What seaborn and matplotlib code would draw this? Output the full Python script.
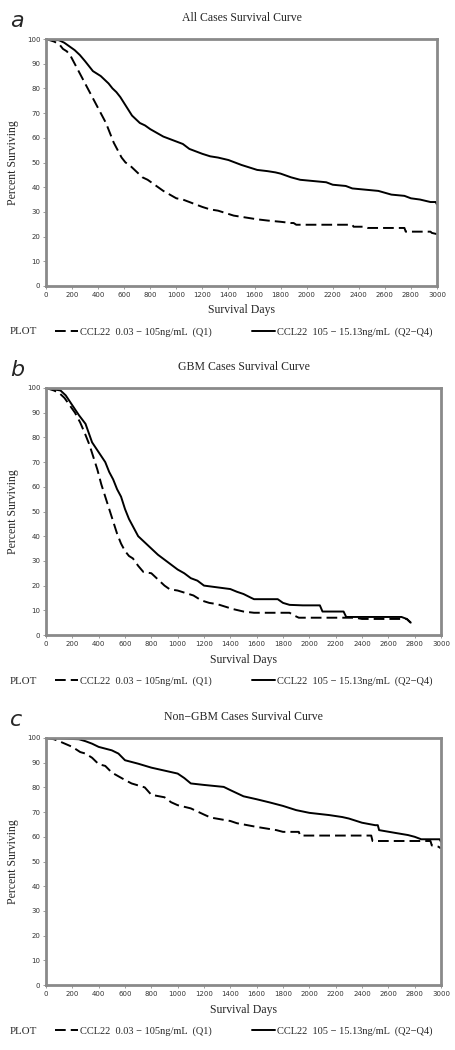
"""CCL22 survival curves (three panels)"""

import matplotlib
matplotlib.use("Agg")
import matplotlib.pyplot as plt
import seaborn as sns
import pandas as pd

# ---- data ----
panel_letters = ["a", "b", "c"]
panel_titles = [
    "All Cases Survival Curve",
    "GBM Cases Survival Curve",
    "Non\u2212GBM Cases Survival Curve",
]
group_labels = [
    "CCL22  0.03 \u2212 105ng/mL  (Q1)",
    "CCL22  105 \u2212 15.13ng/mL  (Q2\u2212Q4)",
]
x_ticks = list(range(0, 3001, 200))
y_ticks = list(range(0, 101, 10))

# panel a
a_q1_days = [0, 60, 100, 130, 160, 190, 220, 250, 280, 310, 340, 370, 400, 430, 460, 490,
             520, 550, 580, 610, 640, 670, 700, 740, 780, 820, 860, 900, 950, 1000, 1050,
             1100, 1150, 1200, 1260, 1320, 1380, 1440, 1500, 1560, 1620, 1700, 1800, 1880,
             1900, 1920, 2350, 2360, 2450, 2470, 2750, 2760, 2950, 2960, 3000]
a_q1_surv = [100, 99, 98, 96, 95, 93, 90, 87, 84, 81, 78, 75, 72, 69, 66, 62,
             58, 55, 52, 50, 49, 47.5, 46, 44, 43, 41.5, 40, 38.5, 37, 35.5, 35,
             34, 33, 32, 31, 30.5, 29.5, 28.5, 28, 27.5, 27, 26.5, 26, 25.5,
             25.5, 24.8, 24.8, 24, 24, 23.5, 23.5, 22, 22, 21.5, 21]
a_q24_days = [0, 100, 140, 180, 220, 260, 300, 330, 360, 390, 420, 450, 480, 510, 540, 570,
              600, 630, 660, 690, 720, 760, 800, 850, 900, 950, 1000, 1050, 1100, 1150, 1200,
              1260, 1320, 1400, 1450, 1500, 1560, 1620, 1700, 1760, 1800, 1880, 1950, 2050,
              2150, 2200, 2300, 2350, 2450, 2550, 2650, 2750, 2800, 2870, 2950, 2990, 3000]
a_q24_surv = [100, 99.5, 98.5, 97, 95.5, 93.5, 91, 89, 87, 86, 85, 83.5, 82, 80, 78.5, 76.5,
              74, 71.5, 69, 67.5, 66, 65, 63.5, 62, 60.5, 59.5, 58.5, 57.5, 55.5, 54.5, 53.5,
              52.5, 52, 51, 50, 49, 48, 47, 46.5, 46, 45.5, 44, 43, 42.5,
              42, 41, 40.5, 39.5, 39, 38.5, 37, 36.5, 35.5, 35, 34, 34, 33]

# panel b
b_q1_days = [0, 60, 100, 140, 180, 220, 260, 300, 330, 360, 390, 420, 450, 480, 510, 540,
             570, 600, 630, 660, 700, 740, 800, 820, 860, 900, 940, 1000, 1060, 1120, 1180,
             1240, 1300, 1360, 1420, 1500, 1580, 1850, 1880, 1920, 2350, 2400, 2740, 2770]
b_q1_surv = [100, 99, 98, 96, 93, 90, 86, 81, 77, 72, 67, 61, 56, 51, 46, 41,
             37, 34, 32, 31, 28, 25.5, 25, 24, 22, 20, 18.5, 18, 17, 16, 14,
             13, 12.5, 11.5, 10.5, 9.5, 9, 9, 8, 7, 7, 6.5, 6.5, 5]
b_q24_days = [0, 110, 150, 200, 250, 300, 350, 400, 450, 480, 510, 540, 570, 600, 630, 660,
              700, 750, 800, 850, 900, 950, 1000, 1050, 1100, 1150, 1200, 1300, 1400, 1450,
              1500, 1560, 1580, 1760, 1800, 1850, 1950, 2080, 2100, 2260, 2280, 2700, 2740,
              2770]
b_q24_surv = [100, 99, 97, 93, 89, 85.5, 78, 74, 70, 66, 63, 59, 56, 51, 47, 44,
              40, 37.5, 35, 32.5, 30.5, 28.5, 26.5, 25, 23, 22, 20, 19.3, 18.6, 17.5,
              16.6, 15, 14.5, 14.5, 13, 12.2, 12, 12, 9.5, 9.5, 7.3, 7.3, 6.5,
              5]

# panel c
c_q1_days = [0, 60, 100, 200, 260, 300, 350, 400, 450, 500, 600, 650, 750, 800, 900, 950,
             1000, 1100, 1200, 1250, 1400, 1450, 1600, 1750, 1800, 1920, 1930, 2470, 2480,
             2920, 2930, 2980, 3000]
c_q1_surv = [100, 99.5, 98.7, 96.4, 94.3, 93.7, 92, 89.4, 88.7, 86, 83, 81.6, 80, 77, 76, 74,
             72.8, 71.5, 69, 67.8, 66.4, 65.5, 64, 62.7, 62, 62, 60.5, 60.5, 58.3,
             58.3, 56.5, 56, 55.3]
c_q24_days = [0, 250, 300, 350, 400, 500, 550, 600, 700, 800, 900, 1000, 1050, 1100, 1200,
              1350, 1400, 1500, 1600, 1700, 1800, 1900, 2000, 2150, 2250, 2300, 2400, 2500,
              2520, 2530, 2650, 2750, 2800, 2850, 2990, 3000]
c_q24_surv = [100, 99.5, 98.7, 97.7, 96.4, 95, 93.7, 91, 89.6, 88, 86.8, 85.6, 83.8, 81.6, 81,
              80.2, 78.9, 76.4, 75.2, 73.9, 72.5, 70.8, 69.7, 68.8, 68, 67.4, 65.7, 64.7,
              64.7, 62.7, 61.6, 60.7, 60, 59, 59, 58]

curves = [
    (a_q1_days, a_q1_surv, a_q24_days, a_q24_surv),
    (b_q1_days, b_q1_surv, b_q24_days, b_q24_surv),
    (c_q1_days, c_q1_surv, c_q24_days, c_q24_surv),
]

# ---- style ----
sns.set_style("white")
plt.rcParams["font.family"] = ["Liberation Serif", "DejaVu Serif"]

W, H = 456, 1050
fig = plt.figure(figsize=(W / 100, H / 100), dpi=100)
fig.patch.set_facecolor("white")

# axes boxes in pixels: (left, top, right, bottom)
boxes = [(46, 39, 437, 286), (46, 388, 441, 635), (46, 738, 441, 985)]
frame_col = "#8a8a8a"

for box, title, letter, crv in zip(boxes, panel_titles, panel_letters, curves):
    l, t, r, b = box
    ax = fig.add_axes([l / W, 1 - b / H, (r - l) / W, (b - t) / H])

    q1_d, q1_s, q24_d, q24_s = crv
    df = pd.concat([
        pd.DataFrame({"days": q1_d, "surv": q1_s, "group": group_labels[0]}),
        pd.DataFrame({"days": q24_d, "surv": q24_s, "group": group_labels[1]}),
    ])
    sns.lineplot(
        data=df, x="days", y="surv", style="group",
        dashes={group_labels[0]: (5.5, 2.6), group_labels[1]: ""},
        color="black", linewidth=1.4, estimator=None, sort=False,
        legend=False, ax=ax,
    )

    ax.set_xlim(0, 3000)
    ax.set_ylim(0, 100)
    ax.set_xticks(x_ticks)
    ax.set_yticks(y_ticks)
    ax.tick_params(axis="both", labelsize=5, length=2.5, width=0.6,
                   color=frame_col, pad=1.5, direction="out", bottom=True, left=True)
    for lab in ax.get_xticklabels() + ax.get_yticklabels():
        lab.set_fontfamily(["DejaVu Sans"])
        lab.set_color("#333333")
    for sp in ax.spines.values():
        sp.set_color(frame_col)
        sp.set_linewidth(2.0)

    ax.set_xlabel("Survival Days", fontsize=8.5, labelpad=5)
    ax.set_ylabel("Percent Surviving", fontsize=8.5, labelpad=6)
    ax.set_title(title, fontsize=8.5, pad=13)

    # panel letter
    fig.text(10 / W, 1 - (t - 18) / H, letter, fontsize=16, style="italic",
             family=["DejaVu Sans"], va="center", ha="left")

    # legend row under the x label
    ly = b + 46
    fig.text(10 / W, 1 - ly / H, "PLOT", fontsize=7.8, va="center", ha="left")
    handles = ax.get_lines()[:2]
    fig.legend(
        handles, group_labels, loc="center left",
        bbox_to_anchor=(55 / W, 1 - ly / H), ncol=2, frameon=False,
        fontsize=7.5, handlelength=2.2, handletextpad=0.2, columnspacing=3.9,
        borderpad=0, borderaxespad=0,
    )

fig.savefig("out.png", dpi=100)
